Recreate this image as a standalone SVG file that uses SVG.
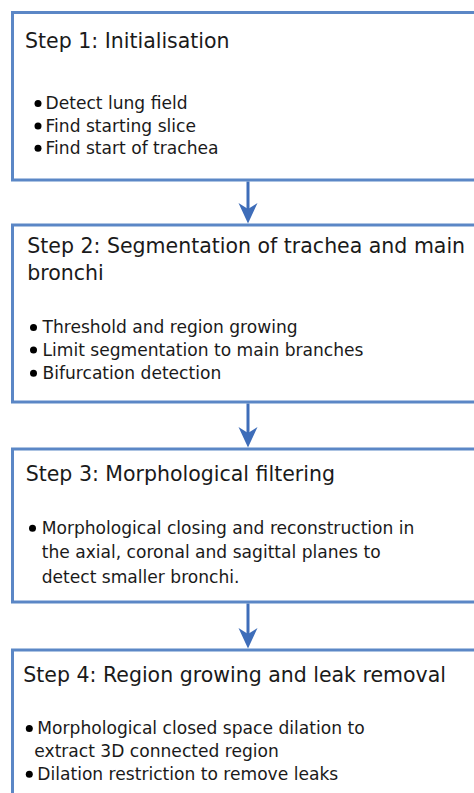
<svg xmlns="http://www.w3.org/2000/svg" width="474" height="793" viewBox="0 0 474 793">
<style>
.box{fill:#fff;stroke:#5b87c6;stroke-width:3}
.t{font-family:"DejaVu Sans",sans-serif;font-size:20.5px;fill:#1a1a1a}
.b{font-family:"DejaVu Sans",sans-serif;font-size:17.1px;fill:#1a1a1a}
.dot{fill:#000}
.conn line{stroke:#3e6db9;stroke-width:3}
.conn path{fill:#3e6db9}
</style>
<rect width="474" height="793" fill="#fff"/>
<g id="step1">
<rect class="box" x="12.5" y="12.5" width="480" height="167.5"/>
<text class="t" x="25" y="47.5">Step 1: Initialisation</text>
<circle class="dot" cx="38" cy="103.5" r="3.5"/>
<text class="b" x="45.5" y="109.3">Detect lung field</text>
<circle class="dot" cx="38" cy="126" r="3.5"/>
<text class="b" x="45.5" y="131.7">Find starting slice</text>
<circle class="dot" cx="38" cy="148.3" r="3.5"/>
<text class="b" x="45.5" y="154">Find start of trachea</text>
</g>
<g id="step2">
<rect class="box" x="12.5" y="225" width="480" height="177"/>
<text class="t" x="27.3" y="252.7">Step 2: Segmentation of trachea and main</text>
<text class="t" x="27.3" y="280">bronchi</text>
<circle class="dot" cx="33.5" cy="327.6" r="3.5"/>
<text class="b" x="42.5" y="333.3">Threshold and region growing</text>
<circle class="dot" cx="33.5" cy="350" r="3.5"/>
<text class="b" x="42.5" y="355.7">Limit segmentation to main branches</text>
<circle class="dot" cx="33.5" cy="373.3" r="3.5"/>
<text class="b" x="42.5" y="379">Bifurcation detection</text>
</g>
<g id="step3">
<rect class="box" x="12.5" y="449" width="480" height="153"/>
<text class="t" x="25.7" y="481">Step 3: Morphological filtering</text>
<circle class="dot" cx="32.5" cy="528.3" r="3.5"/>
<text class="b" x="41.7" y="534">Morphological closing and reconstruction in</text>
<text class="b" x="41.7" y="558.3">the axial, coronal and sagittal planes to</text>
<text class="b" x="41.7" y="582.7">detect smaller bronchi.</text>
</g>
<g id="step4">
<rect class="box" x="12.5" y="650" width="480" height="170"/>
<text class="t" x="23.3" y="681.7">Step 4: Region growing and leak removal</text>
<circle class="dot" cx="29.3" cy="728.6" r="3.5"/>
<text class="b" x="37.3" y="734.3">Morphological closed space dilation to</text>
<text class="b" x="34.3" y="756.7">extract 3D connected region</text>
<circle class="dot" cx="29.3" cy="774.3" r="3.5"/>
<text class="b" x="37.3" y="780">Dilation restriction to remove leaks</text>
</g>
<g id="connectors" class="conn">
<line x1="248" y1="181.5" x2="248" y2="210"/>
<path d="M248,223.5 L238.5,203 L248,209 L257.5,203 Z"/>
<line x1="248" y1="403.5" x2="248" y2="434"/>
<path d="M248,447.5 L238.5,427 L248,433 L257.5,427 Z"/>
<line x1="248" y1="603.5" x2="248" y2="635"/>
<path d="M248,648.5 L238.5,628 L248,634 L257.5,628 Z"/>
</g>
</svg>
